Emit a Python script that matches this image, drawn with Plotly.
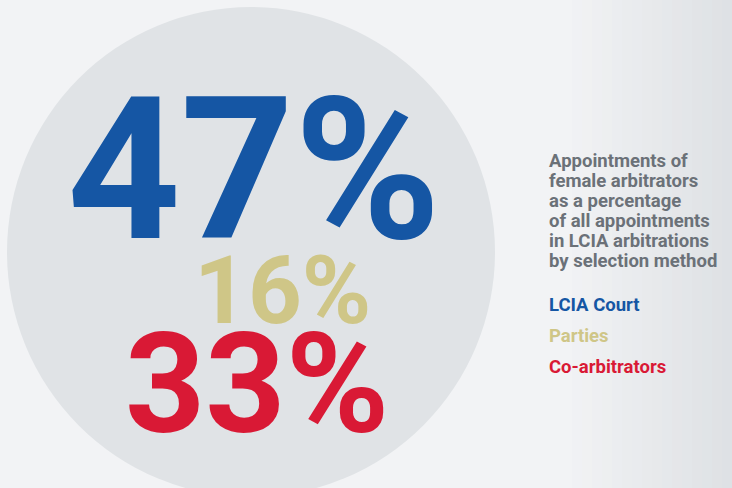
import plotly.graph_objects as go

# Data
categories = ['LCIA Court', 'Parties', 'Co-arbitrators']
values = [47, 16, 33]
colors = ['#1556a4', '#cfc687', '#d91935']
caption_lines = ['Appointments of', 'female arbitrators', 'as a percentage',
                 'of all appointments', 'in LCIA arbitrations', 'by selection method']

W, H = 732, 488
FONT = 'Roboto, Liberation Sans Narrow, sans-serif'

fig = go.Figure()

# background gradient on the right
n = 16
for i in range(n):
    x0 = 572 + i * 10
    fig.add_shape(type='rect', x0=x0, x1=x0 + 10, y0=0, y1=H,
                  fillcolor='#d3d7db', opacity=0.04 * (i + 1), line=dict(width=0), layer='below')

# big circle
fig.add_shape(type='circle', x0=7, x1=495, y0=7, y1=497,
              fillcolor='#e0e3e6', line=dict(width=0), layer='below')

# big percentages
big = [
    dict(x=254, y=170, size=198),
    dict(x=282, y=291, size=94),
    dict(x=257, y=384, size=140),
]
for v, c, b in zip(values, colors, big):
    fig.add_annotation(x=b['x'], y=b['y'], text=f'{v}%', showarrow=False,
                       xanchor='center', yanchor='middle',
                       font=dict(family=FONT, size=b['size'], color=c, weight='bold'))

# caption
for i, line in enumerate(caption_lines):
    fig.add_annotation(x=547, y=161 + i * 20, text=line, showarrow=False,
                       xanchor='left', yanchor='middle',
                       font=dict(family=FONT, size=18.5, color='#6b7178', weight='bold'))

# legend labels
for i, (cat, c) in enumerate(zip(categories, colors)):
    fig.add_annotation(x=547, y=305 + i * 31, text=cat, showarrow=False,
                       xanchor='left', yanchor='middle',
                       font=dict(family=FONT, size=18.5, color=c, weight='bold'))

fig.update_layout(
    width=W, height=H,
    margin=dict(l=0, r=0, t=0, b=0),
    paper_bgcolor='#f2f3f5', plot_bgcolor='#f2f3f5',
    xaxis=dict(range=[0, W], visible=False, fixedrange=True),
    yaxis=dict(range=[H, 0], visible=False, fixedrange=True),
    showlegend=False,
)

fig.write_html('out.html', config={'displayModeBar': False},
               post_script="document.body.style.margin='0';")
